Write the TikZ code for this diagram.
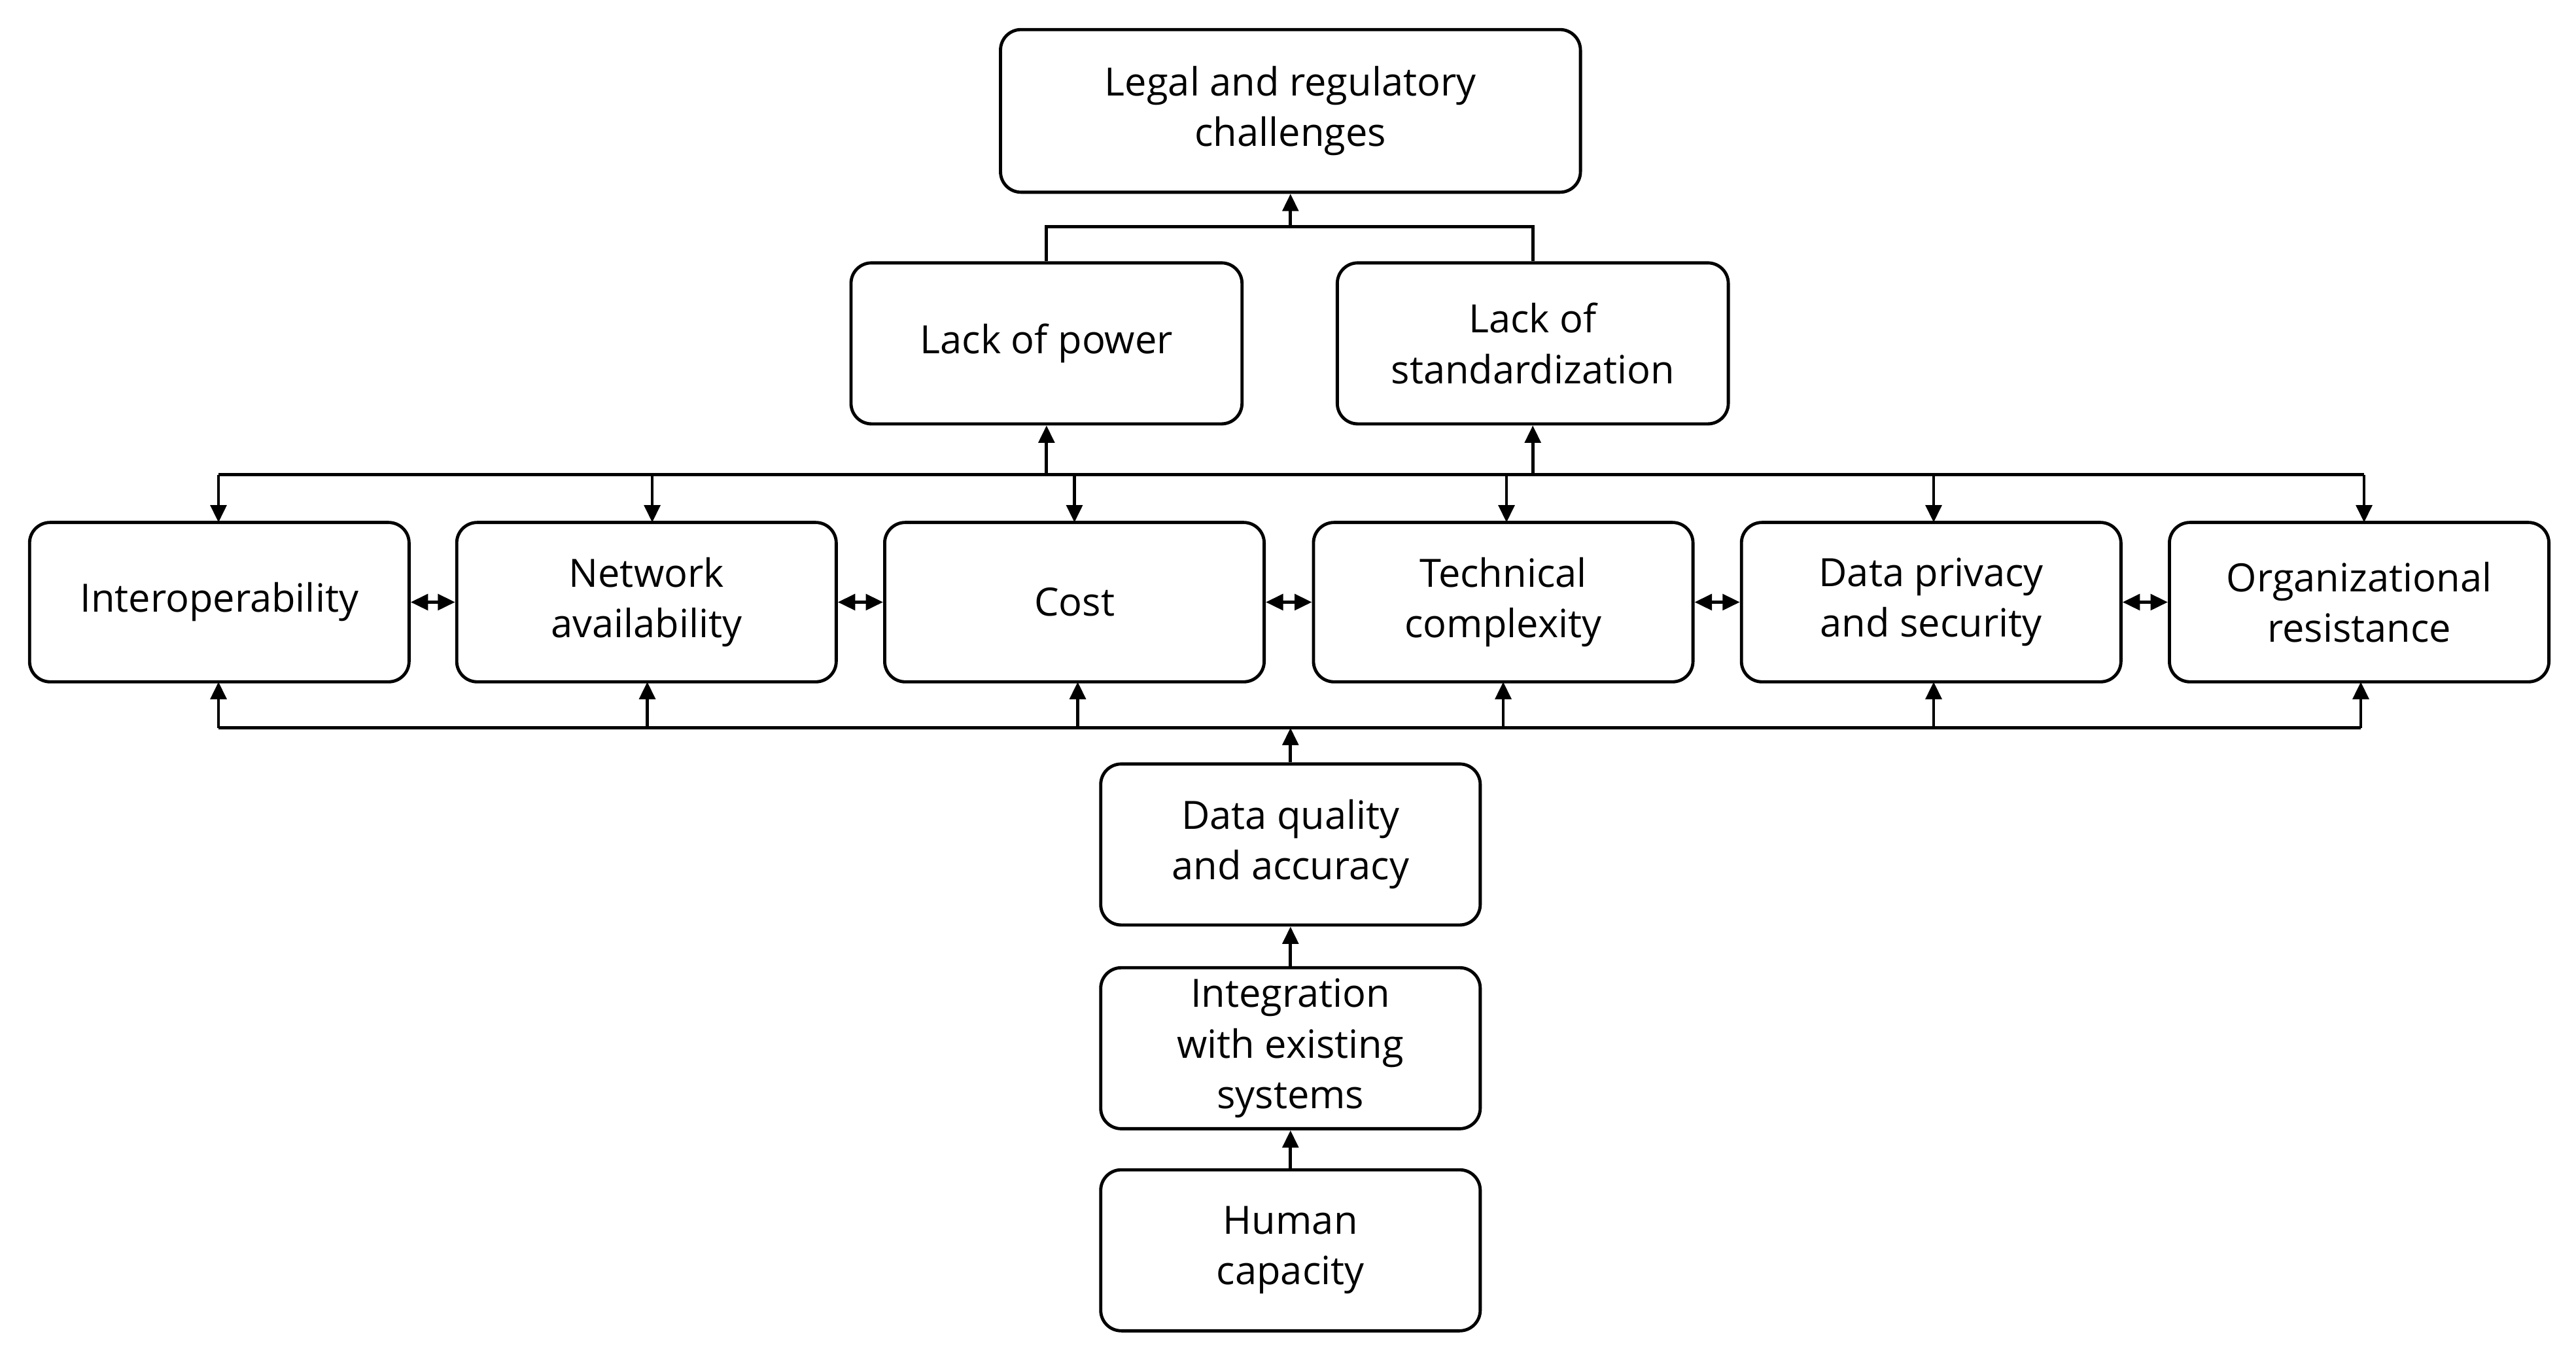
\documentclass[tikz,border=0pt]{standalone}
\usepackage{fontspec}
\setmainfont{Open Sans}
\usetikzlibrary{arrows.meta}
\begin{document}
\begin{tikzpicture}[x=0.02cm,y=-0.02cm,
  box/.style={draw,line width=1.1pt,rounded corners=0.25cm,align=center,inner sep=0pt,font=\fontsize{13.5}{17.5}\selectfont},
  ln/.style={line width=1.1pt},
  ar/.style={ln,-{Triangle[length=6pt,width=5.5pt]}},
  dar/.style={ln,{Triangle[length=6pt,width=5.5pt]}-{Triangle[length=6pt,width=5.5pt]}}]
\useasboundingbox (0,0) rectangle (1568,828.6);
\node[box,minimum width=353*0.02cm,minimum height=99*0.02cm] (legal) at (785.5,67.5) {Legal and regulatory\\challenges};
\node[box,minimum width=238*0.02cm,minimum height=98*0.02cm] (power) at (637,209) {Lack of power};
\node[box,minimum width=238*0.02cm,minimum height=98*0.02cm] (std) at (933,209) {Lack of\\standardization};
\foreach \n/\x/\t in {a/133.5/Interoperability,b/393.5/{Network\\availability},c/654/Cost,d/915/{Technical\\complexity},e/1175.5/{Data privacy\\and security},f/1436/{Organizational\\resistance}}
  \node[box,minimum width=231*0.02cm,minimum height=97*0.02cm] (\n) at (\x,366.5) {\t};
\node[box,minimum width=231*0.02cm,minimum height=98*0.02cm] (dq) at (785.5,514) {Data quality\\and accuracy};
\node[box,minimum width=231*0.02cm,minimum height=98*0.02cm] (int) at (785.5,638) {Integration\\with existing\\systems};
\node[box,minimum width=231*0.02cm,minimum height=98*0.02cm] (hum) at (785.5,761) {Human\\capacity};
% top
\coordinate (tj) at (785.5,138);
\draw[ln] (power.north) |- (tj) -| (std.north);
\draw[ar] (tj) -- (legal.south);
% upper bus
\coordinate (ub1) at (133,289); \coordinate (ub2) at (1439,289);
\draw[ln] (ub1) -- (ub2);
\foreach \x/\n in {133/a,397/b,654/c,917/d,1177/e,1439/f}
  \draw[ar] (\x,289) -- (\x,318);
\draw[ar] (637,289) -- (power.south);
\draw[ar] (933,289) -- (std.south);
% lower bus
\coordinate (lb1) at (133,443); \coordinate (lb2) at (1437,443);
\draw[ln] (lb1) -- (lb2);
\foreach \x in {133,394,656,915,1177,1437}
  \draw[ar] (\x,443) -- (\x,415);
\draw[ar] (dq.north) -- (785.5,443);
\foreach \p/\q in {a/b,b/c,c/d,d/e,e/f}
  \draw[dar] (\p.east) -- (\q.west);
\draw[ar] (int.north) -- (dq.south);
\draw[ar] (hum.north) -- (int.south);
\end{tikzpicture}
\end{document}
